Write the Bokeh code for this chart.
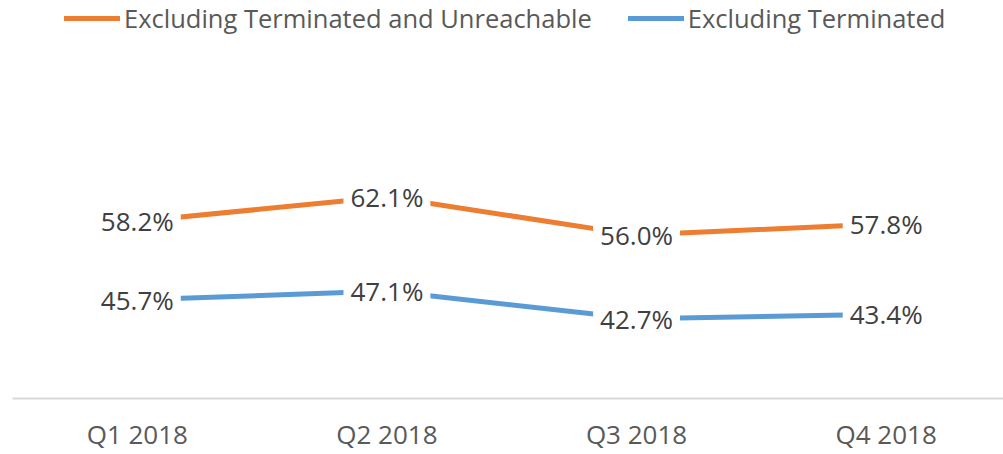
from bokeh.plotting import figure
from bokeh.models import ColumnDataSource, Range1d, Legend, LegendItem, FixedTicker
from bokeh.core.properties import value
from bokeh.embed import file_html
from bokeh.resources import INLINE

categories = ["Q1 2018", "Q2 2018", "Q3 2018", "Q4 2018"]
excl_term_unreach = [58.2, 62.1, 56.0, 57.8]
excl_term = [45.7, 47.1, 42.7, 43.4]
series_names = ["Excluding Terminated and Unreachable", "Excluding Terminated"]

ORANGE = "#ED7D31"
BLUE = "#5B9BD5"
FONT = "Open Sans"

xs = list(range(len(categories)))

p = figure(width=1003, height=454, output_backend="svg", toolbar_location=None,
           x_range=Range1d(-0.5, 3.47), y_range=Range1d(30, 93.33),
           min_border_left=12, min_border_right=0, min_border_top=0, min_border_bottom=55)
p.outline_line_color = None
p.background_fill_color = "white"
p.border_fill_color = "white"
p.xgrid.visible = False
p.ygrid.visible = False
p.yaxis.visible = False

src_o = ColumnDataSource(dict(x=xs, y=excl_term_unreach,
                              t=[f"{v:.1f}%" for v in excl_term_unreach]))
src_b = ColumnDataSource(dict(x=xs, y=excl_term,
                              t=[f"{v:.1f}%" for v in excl_term]))

r_o = p.line("x", "y", source=src_o, line_color=ORANGE, line_width=5,
             line_cap="round", line_join="round")
r_b = p.line("x", "y", source=src_b, line_color=BLUE, line_width=5,
             line_cap="round", line_join="round")

for src in (src_o, src_b):
    p.text("x", "y", text="t", source=src, text_font=value(FONT),
           text_font_size="26px", text_color="#404040",
           text_align="center", text_baseline="middle",
           background_fill_color="white", padding=7)

ax = p.xaxis[0]
ax.ticker = FixedTicker(ticks=xs)
ax.major_label_overrides = {i: c for i, c in enumerate(categories)}
ax.major_tick_line_color = None
ax.minor_tick_line_color = None
ax.axis_line_color = "#D9D9D9"
ax.axis_line_width = 2
ax.major_label_text_font = FONT
ax.major_label_text_font_size = "26px"
ax.major_label_text_color = "#595959"
ax.major_label_standoff = 11

legend = Legend(items=[LegendItem(label=series_names[0], renderers=[r_o]),
                       LegendItem(label=series_names[1], renderers=[r_b])],
                orientation="horizontal", location=(52, 363),
                glyph_width=56, glyph_height=20, label_standoff=4, spacing=36,
                padding=0, margin=0, border_line_color=None,
                background_fill_alpha=0,
                label_text_font=FONT, label_text_font_size="25.5px",
                label_text_color="#595959")
p.add_layout(legend)

open("out.html", "w").write(file_html(p, INLINE))
